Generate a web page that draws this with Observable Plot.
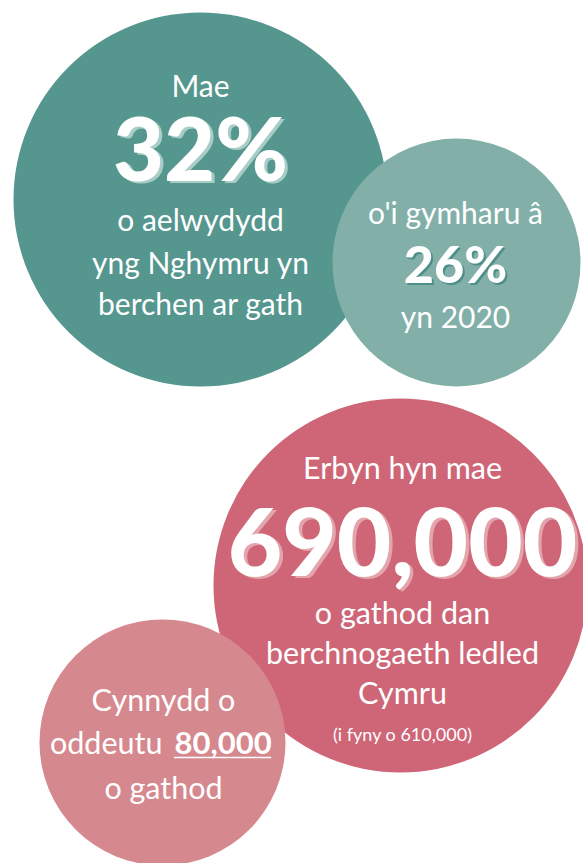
<!DOCTYPE html>
<html>
<head>
<meta charset="utf-8">
<script src="https://cdn.jsdelivr.net/npm/d3@7"></script>
<script src="https://cdn.jsdelivr.net/npm/@observablehq/plot@0.6"></script>
<style>
  html, body { margin: 0; padding: 0; background: #ffffff; }
  #chart svg { display: block; }
</style>
</head>
<body>
<div id="chart"></div>
<script>
// ---- data ----
const bubbleNames = ["aelwydydd", "2020", "cathod", "cynnydd"];
const bubbleValues = [32, 26, 690000, 80000];
const bubbleUnits = ["%", "%", "", ""];

// ---- text of each bubble (lines) ----
const linesHouseholds = ["Mae", "32%", "o aelwydydd", "yng Nghymru yn", "berchen ar gath"];
const linesCompare = ["o'i gymharu â", "26%", "yn 2020"];
const linesCats = ["Erbyn hyn mae", "690,000", "o gathod dan", "berchnogaeth ledled", "Cymru", "(i fyny o 610,000)"];
const linesIncrease = ["Cynnydd o", "oddeutu", "80,000", "o gathod"];

// ---- layout (positions / sizes / styles, kept separate from data) ----
const W = 583, H = 863;
const layoutCx = [200, 456, 400, 162];
const layoutCy = [199, 262, 585, 742];
const layoutR = [187, 124, 187, 123];
const layoutTextX = [200, 455, 402, 163];
const layoutFill = ["#55968f", "#82b0a8", "#ce6677", "#d6888f"];
const layoutShadow = ["#a8ccc6", "#4f8f89", "#e3a4ac", "#e3a4ac"];

const bubbles = bubbleNames.map((name, i) => ({
  name, value: bubbleValues[i],
  cx: layoutCx[i], cy: layoutCy[i], r: layoutR[i], fill: layoutFill[i]
}));

const fmt = d3.format(",");
const big = (i) => fmt(bubbleValues[i]) + bubbleUnits[i];

// text rows: [bubble index, text, baseline y, font size, weight, big?]
const textRows = [
  [0, linesHouseholds[0], 96, 30, 400, false],
  [0, big(0), 180, 88, 900, true],
  [0, linesHouseholds[2], 230, 30, 400, false],
  [0, linesHouseholds[3], 273, 30, 400, false],
  [0, linesHouseholds[4], 314, 30, 400, false],
  [1, linesCompare[0], 223, 30, 400, false],
  [1, big(1), 282, 52, 900, true],
  [1, linesCompare[2], 327, 30, 400, false],
  [2, linesCats[0], 478, 30.5, 400, false],
  [2, big(2), 575, 94, 900, true],
  [2, linesCats[2], 623, 30.5, 400, false],
  [2, linesCats[3], 663, 30.5, 400, false],
  [2, linesCats[4], 703, 30.5, 400, false],
  [2, linesCats[5], 740, 18, 400, false],
  [3, linesIncrease[0], 710, 30.5, 400, false],
  [3, linesIncrease[3], 798, 30.5, 400, false]
].map(([b, text, y, size, weight, isBig]) => ({
  x: layoutTextX[b], y, text, size, weight, isBig, shadow: layoutShadow[b]
}));

const bigRows = textRows.filter(d => d.isBig);
const plainRows = textRows.filter(d => !d.isBig);
const splitRow = [{x: 162, y: 753, text: linesIncrease[1]}];
const underlinedRow = [{x: 174, y: 753, text: fmt(bubbleValues[3])}];

// measure the underlined number to size its underline
const ctx = document.createElement("canvas").getContext("2d");
ctx.font = "700 31px Lato";
const uw = ctx.measureText(underlinedRow[0].text).width;
const underline = [{x1: underlinedRow[0].x, x2: underlinedRow[0].x + uw, y: underlinedRow[0].y + 4}];

const textGroup = (rows, opts) => rows.map(d => Plot.text([d], {
  x: "x", y: "y", text: "text",
  fontSize: d.size, fontWeight: d.weight,
  lineAnchor: "bottom", textAnchor: "middle",
  fontFamily: "Lato", ...opts
}));

const chart = Plot.plot({
  width: W, height: H,
  margin: 0,
  style: {fontFamily: "Lato", background: "#ffffff"},
  x: {domain: [0, W], range: [0, W], axis: null},
  y: {domain: [0, H], range: [0, H], axis: null},
  r: {type: "identity"},
  marks: [
    Plot.dot(bubbles, {x: "cx", y: "cy", r: "r", fill: "fill", stroke: null}),
    // shadows of big numbers
    ...bigRows.map(d => Plot.text([d], {
      x: "x", y: "y", text: "text", fontSize: d.size, fontWeight: d.weight,
      lineAnchor: "bottom", textAnchor: "middle", fontFamily: "Lato",
      fill: d.shadow, dx: Math.max(2, d.size / 28), dy: Math.max(2, d.size / 32)
    })),
    ...textGroup(bigRows, {fill: "#ffffff"}),
    ...textGroup(plainRows, {fill: "#ffffff"}),
    Plot.text(splitRow, {x: "x", y: "y", text: "text", fontSize: 30.5, fontWeight: 400,
      lineAnchor: "bottom", textAnchor: "end", fontFamily: "Lato", fill: "#ffffff"}),
    Plot.text(underlinedRow, {x: "x", y: "y", text: "text", fontSize: 31, fontWeight: 700,
      lineAnchor: "bottom", textAnchor: "start", fontFamily: "Lato", fill: "#ffffff"}),
    Plot.ruleY(underline, {x1: "x1", x2: "x2", y: "y", stroke: "#ffffff", strokeWidth: 1.6})
  ]
});

document.getElementById("chart").appendChild(chart);
</script>
</body>
</html>
